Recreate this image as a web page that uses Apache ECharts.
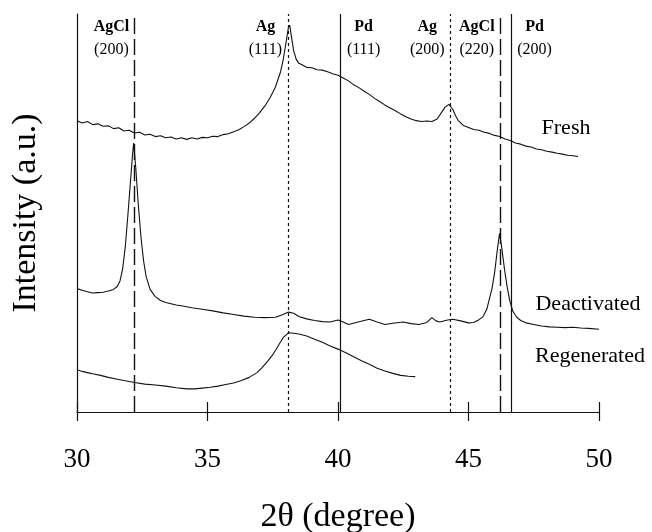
<!DOCTYPE html>
<html><head><meta charset="utf-8">
<script src="https://cdn.jsdelivr.net/npm/echarts@6/dist/echarts.min.js"></script>
<style>html,body{margin:0;padding:0;background:#fff}#c{width:652px;height:532px}</style>
</head><body><div id="c"></div>
<script>
// ---- data ----
const xTicks = [30, 35, 40, 45, 50];
const seriesNames = ['Fresh', 'Deactivated', 'Regenerated'];

const fresh = [
[30.0,73.2],[30.2,72.6],[30.4,73.0],[30.6,72.2],[30.8,72.4],[31.0,71.8],[31.2,71.9],[31.4,71.2],[31.6,71.4],[31.8,70.6],
[32.0,70.8],[32.2,70.1],[32.4,70.3],[32.6,69.6],[32.8,69.8],[33.0,69.2],[33.2,69.4],[33.4,68.9],[33.6,69.1],[33.8,68.6],
[34.0,68.9],[34.2,68.5],[34.4,68.9],[34.6,68.6],[34.8,69.0],[35.0,68.9],[35.2,69.3],[35.4,69.2],[35.6,69.7],[35.8,69.9],
[36.0,70.4],[36.2,70.9],[36.4,71.7],[36.6,72.6],[36.8,73.8],[37.0,75.2],[37.2,76.9],[37.4,79.0],[37.6,81.6],[37.8,85.5],
[37.9,88.5],[38.0,92.5],[38.1,96.6],[38.15,97.2],[38.2,95.0],[38.3,90.8],[38.4,88.6],[38.5,87.6],[38.6,87.3],[38.8,86.6],
[39.0,86.5],[39.2,86.0],[39.4,85.9],[39.6,85.5],[39.8,85.0],[40.0,84.6],[40.2,83.9],[40.4,83.2],[40.6,82.2],[40.8,81.5],
[41.0,80.6],[41.2,79.8],[41.4,78.8],[41.6,78.0],[41.8,77.1],[42.0,76.4],[42.2,75.7],[42.4,74.9],[42.6,74.2],[42.8,73.6],
[43.0,73.2],[43.2,73.0],[43.4,73.1],[43.6,73.0],[43.8,73.6],[44.0,75.6],[44.1,76.6],[44.25,77.3],[44.4,76.0],[44.5,74.5],
[44.6,73.3],[44.8,72.0],[45.0,71.5],[45.2,71.0],[45.4,70.8],[45.6,70.3],[45.8,70.0],[46.0,69.5],[46.2,69.2],[46.4,68.6],
[46.6,68.2],[46.8,67.6],[47.0,67.3],[47.2,66.8],[47.4,66.6],[47.6,66.1],[47.8,65.9],[48.0,65.5],[48.2,65.3],[48.4,65.0],
[48.6,64.8],[48.8,64.5],[49.0,64.4],[49.2,64.2]
];

const deactivated = [
[30.0,31.0],[30.2,30.6],[30.4,30.2],[30.6,29.9],[30.8,30.0],[31.0,30.1],[31.2,30.4],[31.4,30.8],[31.55,31.6],[31.65,33.0],
[31.75,36.0],[31.85,41.5],[31.95,49.5],[32.05,58.0],[32.12,64.0],[32.17,67.6],[32.25,61.5],[32.35,52.0],[32.45,44.0],[32.55,38.0],
[32.65,34.0],[32.8,30.8],[33.0,29.0],[33.2,28.0],[33.4,27.5],[33.6,27.2],[33.8,26.9],[34.0,26.7],[34.4,26.2],[34.8,25.8],
[35.2,25.4],[35.6,24.9],[36.0,24.5],[36.4,24.1],[36.8,23.8],[37.2,23.7],[37.6,23.8],[37.9,24.5],[38.1,25.1],[38.3,24.8],
[38.5,24.0],[38.8,23.4],[39.1,23.0],[39.4,22.7],[39.7,22.6],[40.0,23.1],[40.2,22.6],[40.4,22.0],[40.7,22.5],[41.0,23.0],
[41.2,23.3],[41.5,22.6],[41.8,22.0],[42.1,22.3],[42.5,22.6],[42.8,22.2],[43.1,22.0],[43.4,22.5],[43.6,23.7],[43.75,22.9],
[43.9,22.6],[44.2,23.1],[44.4,23.3],[44.7,22.9],[45.0,22.4],[45.2,22.5],[45.4,23.2],[45.55,23.9],[45.7,25.8],[45.8,28.4],
[45.9,31.0],[46.0,35.0],[46.1,40.5],[46.19,44.9],[46.28,41.0],[46.38,35.8],[46.48,31.5],[46.58,28.0],[46.7,25.3],[46.85,23.8],
[47.0,23.0],[47.2,22.4],[47.5,22.0],[47.8,21.6],[48.1,21.4],[48.4,21.3],[48.7,21.2],[49.0,21.3],[49.3,21.1],[49.6,21.0],
[50.0,20.8]
];

const regenerated = [
[30.0,10.6],[30.2,10.2],[30.4,9.9],[30.6,9.6],[30.9,9.2],[31.2,8.7],[31.5,8.3],[31.8,7.9],[32.2,7.4],[32.6,7.0],
[33.0,6.8],[33.4,6.5],[33.8,6.1],[34.2,5.8],[34.5,5.8],[34.8,6.0],[35.1,6.2],[35.4,6.5],[35.7,6.9],[36.0,7.3],
[36.3,7.9],[36.6,8.7],[36.9,9.9],[37.1,11.2],[37.3,12.7],[37.5,14.4],[37.7,16.5],[37.9,18.7],[38.1,19.9],[38.3,19.8],
[38.5,19.6],[38.8,19.1],[39.1,18.3],[39.4,17.5],[39.7,16.6],[40.0,15.8],[40.3,14.9],[40.6,13.9],[40.9,12.9],[41.2,12.0],
[41.5,11.0],[41.8,10.3],[42.1,9.7],[42.4,9.2],[42.7,9.0],[42.96,8.9]
];

const refPositions = [32.2, 38.1, 40.1, 44.3, 46.2, 46.65];
const refPhases = ['AgCl', 'Ag', 'Pd', 'Ag', 'AgCl', 'Pd'];
const refPlanes = ['(200)', '(111)', '(111)', '(200)', '(220)', '(200)'];
const refLabelSides = ['left', 'left', 'right', 'left', 'left', 'right'];

// ---- styling ----
const SERIF = '"Liberation Serif", "Times New Roman", serif';
const INK = '#111';
const LABEL_Y = 93.8;
const phaseLine = {
  AgCl: { type: [16, 5], width: 1.4, color: INK },
  Ag:   { type: [3, 3],  width: 1.2, color: INK },
  Pd:   { type: 'solid', width: 1.2, color: INK }
};
const nameLabelPos = [[566, 128], [588, 304], [590, 356]];

const chart = echarts.init(document.getElementById('c'), null, { renderer: 'canvas' });

const curveSeries = [fresh, deactivated, regenerated].map((d, i) => ({
  name: seriesNames[i], type: 'line', data: d, showSymbol: false, symbol: 'none',
  sampling: false, smooth: false, xAxisIndex: 0, yAxisIndex: 0, z: 3,
  lineStyle: { color: INK, width: 1.1 }
}));

const refSeries = {
  type: 'scatter', xAxisIndex: 0, yAxisIndex: 0, silent: true, z: 4,
  symbolSize: 1, itemStyle: { color: 'rgba(0,0,0,0)', opacity: 1 },
  data: refPositions.map((x, i) => ({
    value: [x, LABEL_Y],
    label: {
      show: true, position: 'inside', align: 'center', verticalAlign: 'middle', opacity: 1,
      offset: [refLabelSides[i] === 'left' ? -23 : 23, 0],
      formatter: '{p|' + refPhases[i] + '}\n{h|' + refPlanes[i] + '}',
      rich: {
        p: { fontFamily: SERIF, fontSize: 16, fontWeight: 'bold', color: '#000', lineHeight: 23, align: 'center' },
        h: { fontFamily: SERIF, fontSize: 16, color: '#000', lineHeight: 23, align: 'center' }
      }
    }
  })),
  markLine: {
    silent: true, symbol: ['none', 'none'], animation: false,
    label: { show: false },
    data: refPositions.map((x, i) => ({ xAxis: x, lineStyle: phaseLine[refPhases[i]] }))
  }
};

chart.setOption({
  animation: false,
  backgroundColor: '#fff',
  grid: { left: 77, right: 53, top: 14, bottom: 120, containLabel: false, outerBoundsMode: 'none' },
  xAxis: [{
    type: 'value', min: xTicks[0], max: xTicks[xTicks.length - 1], interval: 5,
    axisLine: { show: true, onZero: false, lineStyle: { color: INK, width: 1.2 } },
    axisTick: { show: true, length: 9, lineStyle: { color: INK, width: 1.2 } },
    axisLabel: { fontFamily: SERIF, fontSize: 27, color: '#000', margin: 34 },
    splitLine: { show: false },
    name: '2θ (degree)', nameLocation: 'middle', nameGap: 88,
    nameTextStyle: { fontFamily: SERIF, fontSize: 34, color: '#000' }
  }, {
    type: 'value', min: xTicks[0], max: xTicks[xTicks.length - 1], interval: 5, position: 'bottom',
    axisLine: { show: false },
    axisTick: { show: true, inside: true, length: 10, lineStyle: { color: INK, width: 1.2 } },
    axisLabel: { show: false }, splitLine: { show: false }
  }],
  yAxis: {
    type: 'value', min: 0, max: 100,
    axisLine: { show: true, onZero: false, lineStyle: { color: INK, width: 1.2 } },
    axisTick: { show: false }, axisLabel: { show: false }, splitLine: { show: false },
    name: 'Intensity (a.u.)', nameLocation: 'middle', nameGap: 34,
    nameTextStyle: { fontFamily: SERIF, fontSize: 34, color: '#000' }
  },
  graphic: seriesNames.map((n, i) => ({
    type: 'text', x: nameLabelPos[i][0], y: nameLabelPos[i][1], silent: true,
    style: { text: n, font: '22px ' + SERIF, fill: '#000', align: 'center', verticalAlign: 'middle',
             textAlign: 'center', textVerticalAlign: 'middle' }
  })),
  series: [...curveSeries, refSeries]
});
</script></body></html>
